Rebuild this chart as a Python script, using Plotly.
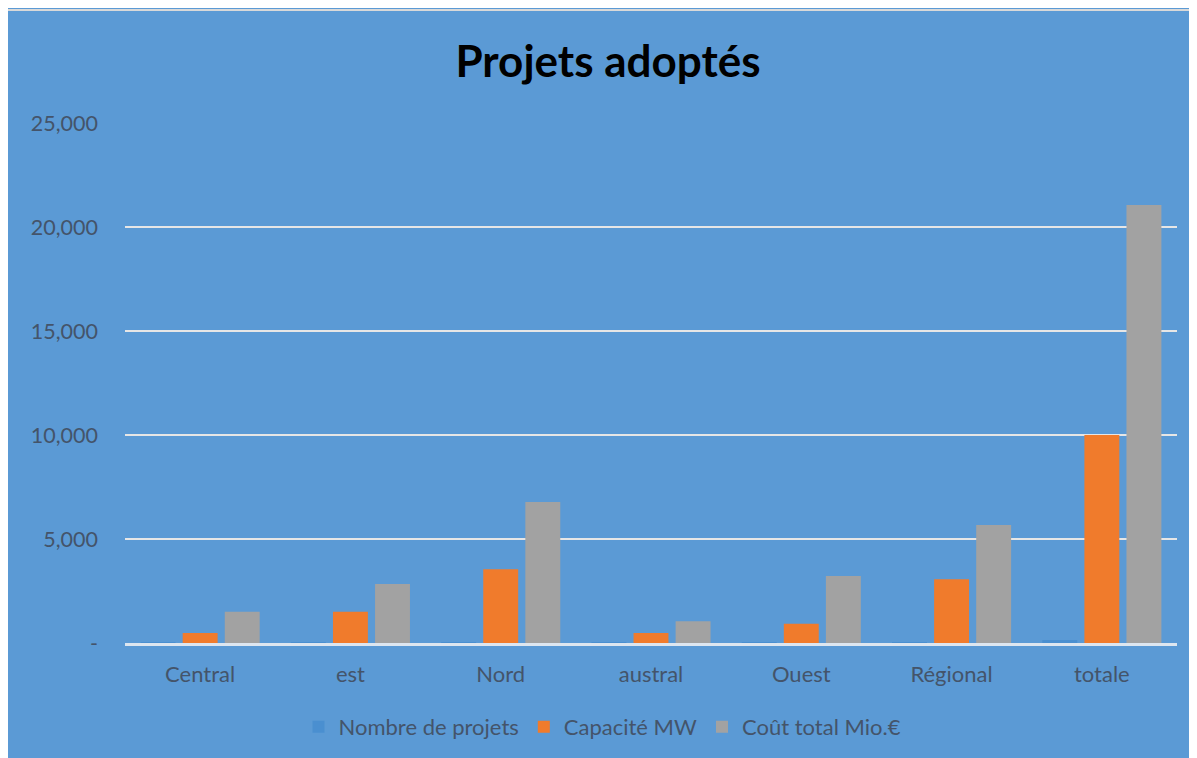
import plotly.graph_objects as go

categories = ["Central", "est", "Nord", "austral", "Ouest", "Régional", "totale"]
nombre_projets = [20, 25, 30, 15, 20, 30, 140]
capacite_mw = [480, 1500, 3550, 480, 920, 3070, 10000]
cout_total = [1500, 2840, 6780, 1050, 3220, 5670, 21060]
tick_vals = [0, 5000, 10000, 15000, 20000, 25000]
tick_text = ["-", "5,000", "10,000", "15,000", "20,000", "25,000"]

BG = "#5B9AD5"
TXT = "#44546A"
FONT = "Lato"

W, H = 1189, 750
L, T, PW, PH = 117, 115, 1052, 520

fig = go.Figure()
fig.add_trace(go.Bar(name="Nombre de projets", x=categories, y=nombre_projets,
                     marker=dict(color="#4A8FD0", line=dict(width=0))))
fig.add_trace(go.Bar(name="Capacité MW", x=categories, y=capacite_mw,
                     marker=dict(color="#F07B2C", line=dict(width=0))))
fig.add_trace(go.Bar(name="Coût total Mio.€", x=categories, y=cout_total,
                     marker=dict(color="#A2A2A2", line=dict(width=0))))

fig.update_layout(
    width=W, height=H,
    paper_bgcolor=BG,
    plot_bgcolor=BG,
    barmode="group",
    bargap=0.16,
    bargroupgap=0.17,
    margin=dict(l=L, r=W - L - PW, t=T, b=H - T - PH),
    font=dict(family=FONT, color=TXT, size=22),
    title=dict(text="<b>Projets adoptés</b>", x=600/W, xref="container", xanchor="center",
               y=1 - 54/H, yref="container", yanchor="middle",
               font=dict(family=FONT, size=44, color="black")),
    showlegend=True,
    legend=dict(orientation="h", x=0.5, xref="container", xanchor="center",
                y=1 - 719/H, yref="container", yanchor="middle",
                font=dict(family=FONT, size=22, color=TXT),
                itemwidth=30, traceorder="normal", bgcolor="rgba(0,0,0,0)"),
    shapes=[dict(type="rect", xref="paper", yref="paper", layer="below",
                 x0=-(L + 1) / PW, x1=1 + (W - L - PW + 10) / PW,
                 y0=-(H - T - PH + 10) / PH, y1=1 + (T - 2) / PH,
                 fillcolor=BG, line=dict(color="#D9D9D9", width=2))],
)
fig.update_yaxes(range=[0, 25000], tickvals=tick_vals, ticktext=tick_text,
                 showgrid=True, gridcolor="#E6E6E6", gridwidth=2,
                 zeroline=False, showline=False, ticks="", ticklabelstandoff=26,
                 tickfont=dict(family=FONT, size=21.5, color=TXT))
fig.update_xaxes(showline=True, linecolor="#DDE6F0", linewidth=3, ticks="",
                 showgrid=False, ticklabelstandoff=10,
                 tickfont=dict(family=FONT, size=22, color=TXT))

fig.write_html("out.html")
